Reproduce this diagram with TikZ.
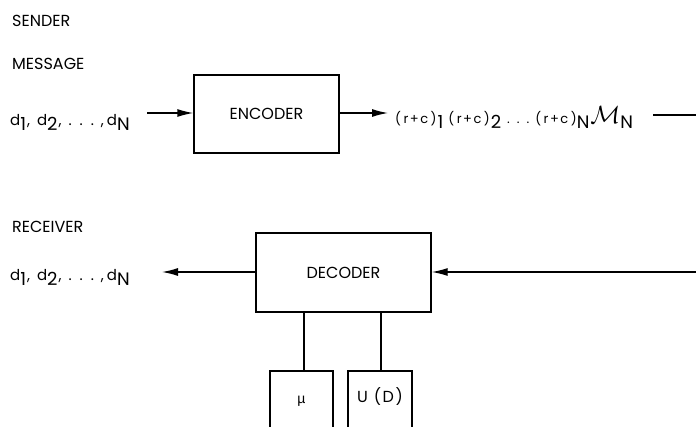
\documentclass[tikz,border=0pt]{standalone}
\usepackage{fontspec}
\setmainfont{Poppins}
\newfontfamily\greekfont{Liberation Sans}
\usetikzlibrary{arrows.meta}
\newcommand\lowr[1]{\raisebox{-5pt}{\fontsize{18}{20}\selectfont #1}}
\newcommand\rc{(\hspace{2.5pt}r\hspace{1.5pt}+\hspace{1.5pt}c\hspace{2.5pt})}
\newcommand\dseq{d\lowr{1}\hspace{1pt},\hspace{7pt}d\lowr{2}\hspace{1pt},\hspace{7pt}.\hspace{8pt}.\hspace{8pt}.\hspace{7pt},\hspace{3pt}d\lowr{N}}
\begin{document}
\begin{tikzpicture}[x=1pt,y=-1pt,
  lbl/.style={font=\fontsize{16}{18}\selectfont, inner sep=0pt},
  dl/.style={font=\fontsize{15}{18}\selectfont, inner sep=0pt},
  blk/.style={draw, line width=1.3pt, inner sep=0pt, font=\fontsize{16}{18}\selectfont},
  conn/.style={line width=1.3pt},
  arr/.style={line width=1.3pt, -{Latex[length=16pt,width=8pt]}}]
\useasboundingbox (0,0) rectangle (696,426);
% sender
\node[lbl, anchor=base west] (sender) at (12,26) {SENDER};
\node[lbl, anchor=base west] (message) at (12,69) {MESSAGE};
\node[dl, anchor=base west] (din) at (10,125) {\dseq};
\node[blk, minimum width=145pt, minimum height=78pt] (enc) at (266.5,114) {ENCODER};
\coordinate (ain) at (147,113);
\draw[arr] (ain) -- (ain -| enc.west);
\node[inner sep=0pt, anchor=base west, font=\fontsize{13}{15}\selectfont] (code) at (395,123)
  {\rc\hspace{1pt}\lowr{1}\hspace{5pt}\rc\hspace{1pt}\lowr{2}\hspace{6pt}.\hspace{7pt}.\hspace{7pt}.\hspace{6pt}\rc\lowr{N}\hspace{1pt}{\fontsize{24}{24}\selectfont$\mathcal{M}$}\lowr{N}};
\coordinate (ctip) at ([xshift=-7pt]code.west |- ain);
\draw[arr] (enc.east |- ain) -- (ctip);
\coordinate (outA) at (653,115);
\coordinate (outB) at (696,115);
\draw[conn] (outA) -- (outB);
% receiver
\node[lbl, anchor=base west] (receiver) at (12,232) {RECEIVER};
\node[dl, anchor=base west] (dout) at (10,280) {\dseq};
\node[blk, minimum width=175pt, minimum height=79pt] (dec) at (343.5,272.5) {DECODER};
\coordinate (rin) at (696,272);
\coordinate (dtip) at (162,272);
\draw[arr] (rin) -- (rin -| dec.east);
\draw[arr] (dec.west |- dtip) -- (dtip);
% lower boxes (cut by picture edge)
\coordinate (mutop) at (304,371);
\coordinate (udtop) at (381,371);
\draw[conn] (dec.south -| mutop) -- (mutop);
\draw[conn] (dec.south -| udtop) -- (udtop);
\draw[conn] (270,430) -- (270,371) -- (333,371) -- (333,430);
\draw[conn] (348,430) -- (348,371) -- (412,371) -- (412,430);
\node[inner sep=0pt, font=\greekfont\fontsize{14}{16}\selectfont] (mu) at (301.5,401) {µ};
\node[inner sep=0pt, font=\fontsize{16}{18}\selectfont] (ud) at (380,397) {U\hspace{6pt}(\hspace{1.5pt}D\hspace{1.5pt})};
\end{tikzpicture}
\end{document}
